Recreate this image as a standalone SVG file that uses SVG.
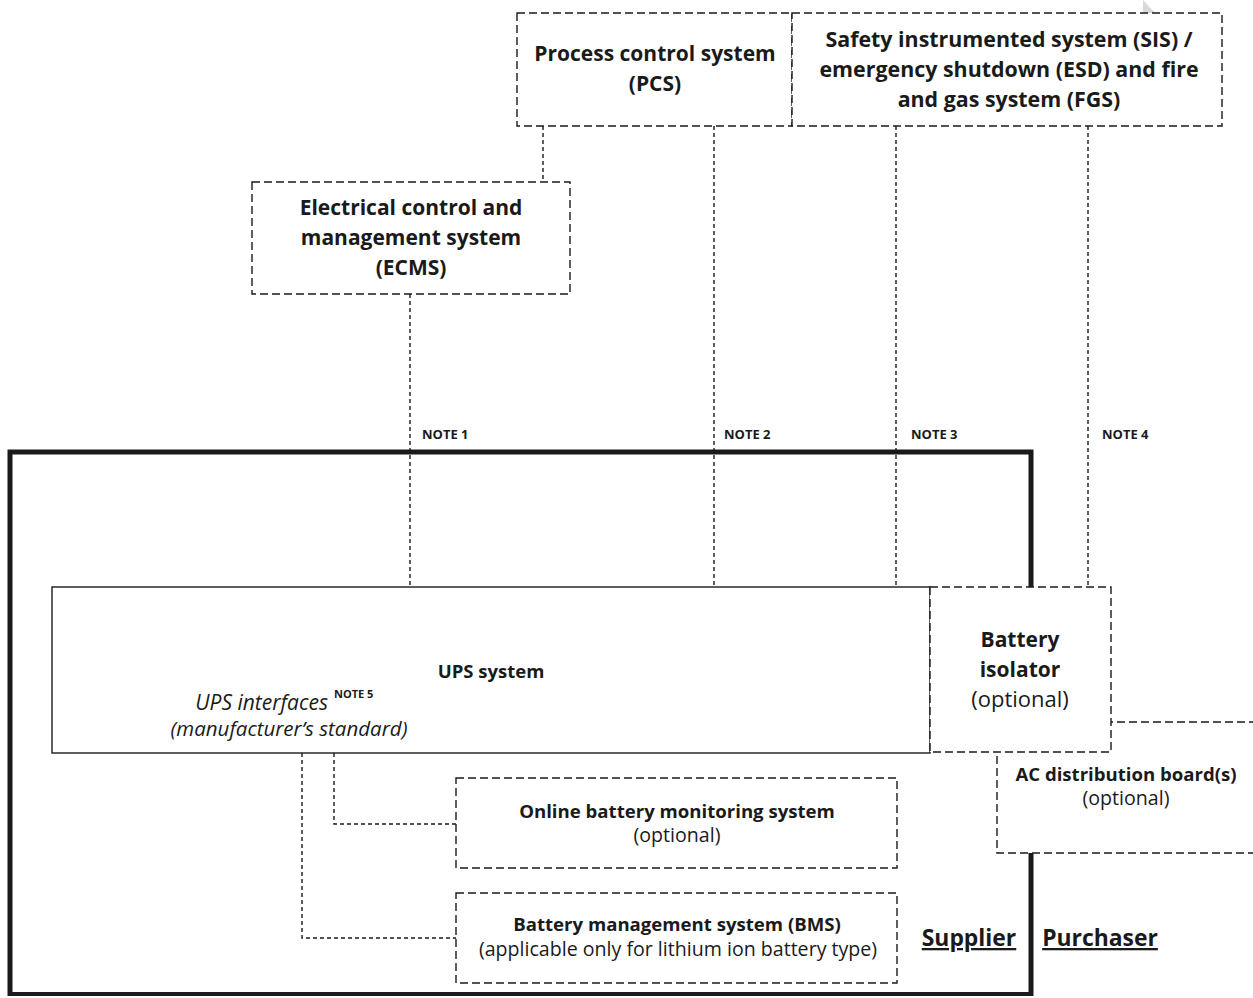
<svg xmlns="http://www.w3.org/2000/svg" width="1253" height="998" viewBox="0 0 1253 998">
<style>
.box{fill:#fff;stroke:#1a1a1a;stroke-width:1.4;stroke-dasharray:8 4}
.solid{fill:#fff;stroke:#1a1a1a;stroke-width:1.4}
.con{fill:none;stroke:#1a1a1a;stroke-width:1.4;stroke-dasharray:4 3}
text{font-family:"Open Sans","Liberation Sans",sans-serif;fill:#1a1a1a;text-anchor:middle}
.b{font-weight:bold}
.t21{font-size:21px}
.t18{font-size:18.6px}
.r19{font-size:19.6px}
.note{font-size:13px;font-weight:bold;text-anchor:start}
.it{font-style:italic}
</style>
<rect width="1253" height="998" fill="#fff"/>
<polygon points="1143,0 1155,13 1143,13" fill="#d8d8d8"/>
<g id="frame">
<polyline points="10,996 10,452 1031,452 1031,996" fill="none" stroke="#1a1a1a" stroke-width="5"/>
<line x1="8" y1="994" x2="1033" y2="994" stroke="#1a1a1a" stroke-width="4"/>
</g>
<g id="connectors">
<polyline class="con" points="543,126 543,182"/>
<polyline class="con" points="714,126 714,587"/>
<polyline class="con" points="896,126 896,587"/>
<polyline class="con" points="1088,126 1088,587"/>
<polyline class="con" points="410,294 410,587"/>
<polyline class="con" points="334,753 334,824 456,824"/>
<polyline class="con" points="302,753 302,938 456,938"/>
</g>
<g id="pcs">
<rect class="box" x="517" y="13" width="275" height="113"/>
<text class="b t21" x="655" y="61">Process control system</text>
<text class="b t21" x="655" y="91">(PCS)</text>
</g>
<g id="sis">
<rect class="box" x="792" y="13" width="430" height="113"/>
<text class="b" style="font-size:21.4px" x="1009" y="47">Safety instrumented system (SIS) /</text>
<text class="b" style="font-size:21.4px" x="1009" y="77">emergency shutdown (ESD) and fire</text>
<text class="b" style="font-size:21.4px" x="1009" y="107">and gas system (FGS)</text>
</g>
<g id="ecms">
<rect class="box" x="252" y="182" width="318" height="112"/>
<text class="b t21" x="411" y="215">Electrical control and</text>
<text class="b t21" x="411" y="245">management system</text>
<text class="b t21" x="411" y="275">(ECMS)</text>
</g>
<g id="notes">
<text class="note" x="422" y="439">NOTE 1</text>
<text class="note" x="724" y="439">NOTE 2</text>
<text class="note" x="911" y="439">NOTE 3</text>
<text class="note" x="1102" y="439">NOTE 4</text>
</g>
<g id="acdb">
<rect class="box" x="997" y="722" width="280" height="131"/>
<text class="b t18" x="1126" y="781">AC distribution board(s)</text>
<text class="r19" x="1126" y="805">(optional)</text>
</g>
<g id="ups">
<rect class="solid" x="52" y="587" width="878" height="166"/>
<text class="b" style="font-size:18.5px" x="491" y="678">UPS system</text>
<text class="it" style="font-size:21px;text-anchor:end" x="328" y="710">UPS interfaces</text>
<text class="b" style="font-size:11px;text-anchor:start" x="334" y="698">NOTE 5</text>
<text class="it" style="font-size:20.5px" x="289" y="736">(manufacturer’s standard)</text>
</g>
<g id="isolator">
<rect class="box" x="930" y="587" width="181" height="165"/>
<text class="b t21" x="1020" y="647">Battery</text>
<text class="b t21" x="1020" y="677">isolator</text>
<text style="font-size:22px" x="1020" y="707">(optional)</text>
</g>
<g id="obms">
<rect class="box" x="456" y="778" width="441" height="90"/>
<text class="b t18" x="677" y="818">Online battery monitoring system</text>
<text class="r19" x="677" y="842">(optional)</text>
</g>
<g id="bms">
<rect class="box" x="456" y="893" width="441" height="90"/>
<text class="b t18" x="677" y="931">Battery management system (BMS)</text>
<text class="r19" x="678" y="956">(applicable only for lithium ion battery type)</text>
</g>
<g id="labels">
<text class="b" style="font-size:22.9px;text-decoration:underline" x="969" y="946">Supplier</text>
<text class="b" style="font-size:22.9px;text-decoration:underline" x="1100" y="946">Purchaser</text>
</g>
</svg>
